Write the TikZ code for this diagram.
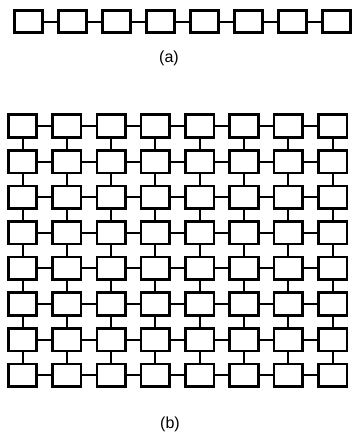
\documentclass[tikz,border=0pt]{standalone}
\usepackage{fontspec}
\setmainfont{Liberation Sans}
\begin{document}
\begin{tikzpicture}[x=1pt,y=-1pt,
  cell/.style={draw=black,line width=2.6pt,minimum width=28.5pt,minimum height=22.5pt,inner sep=0pt,fill=white},
  link/.style={draw=black,line width=2pt},
  caption/.style={font=\fontsize{16}{18}\selectfont}]
\useasboundingbox (0,0) rectangle (354,439);
% (a) linear array
\foreach \i in {0,...,7}{
  \node[cell] (a\i) at ({28.5+44*\i},21.5) {};
}
\foreach \i [evaluate=\i as \j using int(\i+1)] in {0,...,6}{
  \draw[link] (a\i.east) -- (a\j.west);
}
\node[caption] (capa) at (169,58) {(a)};
% (b) mesh
\foreach \r in {0,...,7}{
  \foreach \c in {0,...,7}{
    \node[cell] (g\r-\c) at ({22.5+44.3*\c},{126+35.6*\r}) {};
  }
}
\foreach \r in {0,...,7}{
  \foreach \c [evaluate=\c as \d using int(\c+1)] in {0,...,6}{
    \draw[link] (g\r-\c.east) -- (g\r-\d.west);
  }
}
\foreach \r [evaluate=\r as \s using int(\r+1)] in {0,...,6}{
  \foreach \c in {0,...,7}{
    \draw[link] (g\r-\c.south) -- (g\s-\c.north);
  }
}
\node[caption] (capb) at (170,424) {(b)};
\end{tikzpicture}
\end{document}
